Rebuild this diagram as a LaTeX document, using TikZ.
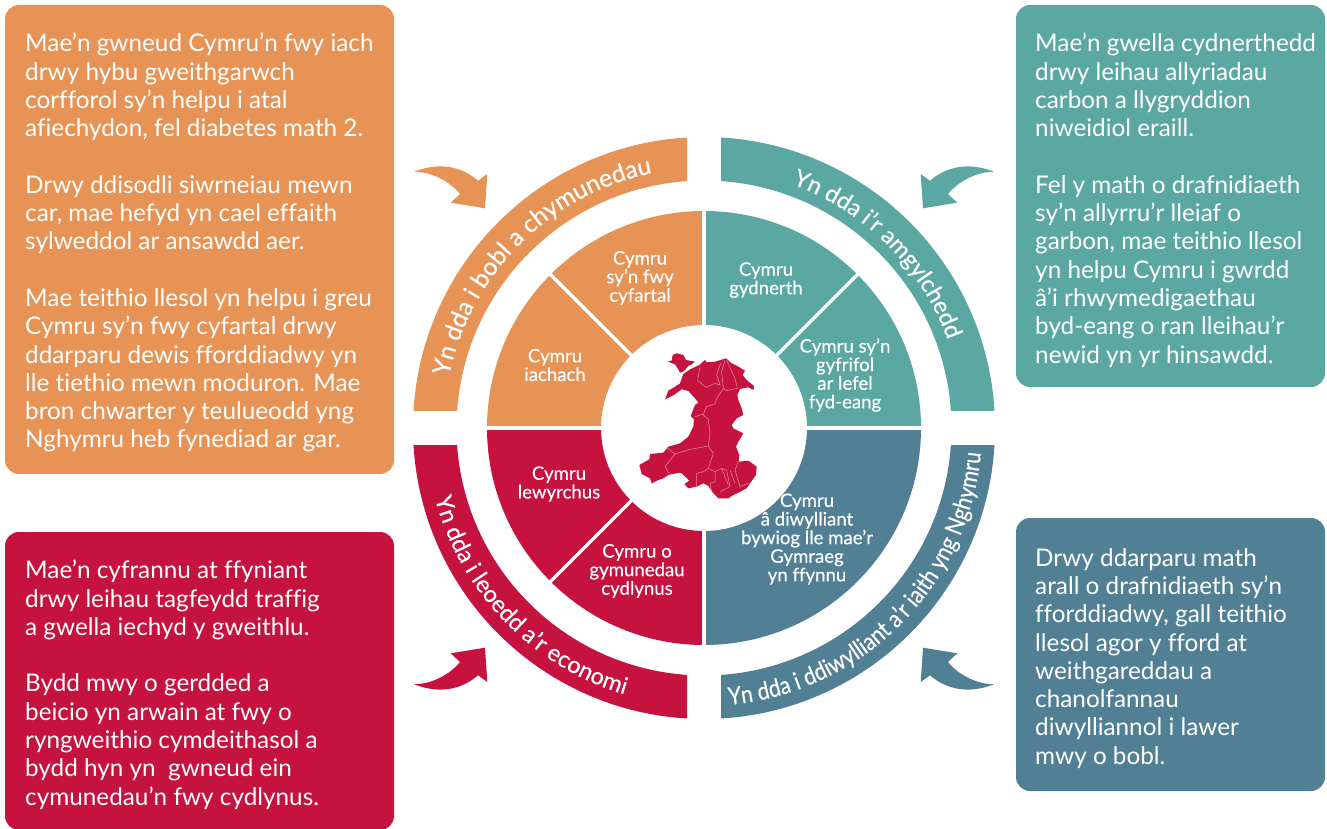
\documentclass[tikz,border=0pt]{standalone}
\usepackage{fontspec}
\setmainfont[Ligatures=NoCommon]{Lato}
\newfontfamily\boldishf[FakeBold=0.25,Ligatures=NoCommon]{Lato}
\newfontfamily\narrowf[FakeStretch=0.87,FakeBold=0.25,Ligatures=NoCommon]{Lato}
\usetikzlibrary{decorations.text}
\definecolor{cOrange}{HTML}{E79355}
\definecolor{cTeal}{HTML}{5BA8A3}
\definecolor{cRed}{HTML}{C6123F}
\definecolor{cBlue}{HTML}{518094}
\definecolor{cBorder}{HTML}{E58BA3}
\newcommand{\bodyfont}{\fontsize{24.3}{28.3}\selectfont}
\newcommand{\labfont}{\boldishf\fontsize{18.6}{18.6}\selectfont}
\newcommand{\arcfont}{\boldishf\fontsize{23.5}{28}\selectfont\color{white}}
\newcommand{\arcwide}{\boldishf\fontsize{24.6}{28}\selectfont\color{white}}
\newcommand{\arcnarrow}{\narrowf\fontsize{24.3}{28}\selectfont\color{white}}
\newcommand{\swoosh}[3]{\begin{scope}[shift={(c)},xscale=#2,yscale=#3]
\fill[#1] (-290,256.3) .. controls (-265,266) and (-243,262) .. (-226,247.3) -- (-216.7,254) -- (-219,219.7) -- (-253.3,225.3) -- (-244,234) .. controls (-253,245) and (-270,256) .. cycle;
\end{scope}}
% outer start, outer end, inner start, inner end angles: cuts stay parallel to the axes
\newcommand{\band}[5]{\fill[#1] ([shift={(c)}]#2:291) arc[start angle=#2,end angle=#3,radius=291]
 -- ([shift={(c)}]#5:247.5) arc[start angle=#5,end angle=#4,radius=247.5] -- cycle;}
\newcommand{\sector}[3]{\fill[#1] ([shift={(c)}]#2:217) arc[start angle=#2,end angle=#3,radius=217]
 -- ([shift={(c)}]#3:103) arc[start angle=#3,end angle=#2,radius=103] -- cycle;}
\tikzset{
  panel/.style={rounded corners=14pt,inner sep=0,minimum width=0},
  bodytext/.style={text=white,align=left,anchor=north west,inner sep=0,font=\bodyfont},
  lab/.style={text=white,align=center,inner sep=0,font=\labfont},
  divider/.style={white,line width=3.2pt},
  arcpath/.style={decorate},
}
\begin{document}
\begin{tikzpicture}[x=1pt,y=1pt]
\useasboundingbox (0,0) rectangle (1327,828);
\coordinate (c) at (704,400);
% panels
\fill[cOrange,panel] (5,354) rectangle (394,823);
\fill[cTeal,panel] (1016,441) rectangle (1325,823);
\fill[cRed,panel] (5,-2) rectangle (394,296);
\fill[cBlue,panel] (1016,37) rectangle (1325,310);
% panel texts
\node[bodytext] (tOrange) at (25,795) {Mae’n gwneud Cymru’n fwy iach\\drwy hybu gweithgarwch\\corfforol sy’n helpu i atal\\afiechydon, fel diabetes math 2.\\[28.3pt]Drwy ddisodli siwrneiau mewn\\car, mae hefyd yn cael effaith\\sylweddol ar ansawdd aer.\\[28.3pt]Mae teithio llesol yn helpu i greu\\Cymru sy’n fwy cyfartal drwy\\ddarparu dewis fforddiadwy yn\\lle tiethio mewn moduron. Mae\\bron chwarter y teulueodd yng\\Nghymru heb fynediad ar gar.};
\node[bodytext] (tTeal) at (1035,795) {Mae’n gwella cydnerthedd\\drwy leihau allyriadau\\carbon a llygryddion\\niweidiol eraill.\\[28.3pt]Fel y math o drafnidiaeth\\sy’n allyrru’r lleiaf o\\garbon, mae teithio llesol\\yn helpu Cymru i gwrdd\\â’i rhwymedigaethau\\byd-eang o ran lleihau’r\\newid yn yr hinsawdd.};
\node[bodytext] (tRed) at (25,268) {Mae’n cyfrannu at ffyniant\\drwy leihau tagfeydd traffig\\a gwella iechyd y gweithlu.\\[28.3pt]Bydd mwy o gerdded a\\beicio yn arwain at fwy o\\ryngweithio cymdeithasol a\\bydd hyn yn\ \ gwneud ein\\cymunedau’n fwy cydlynus.};
\node[bodytext] (tBlue) at (1035,280) {Drwy ddarparu math\\arall o drafnidiaeth sy’n\\fforddiadwy, gall teithio\\llesol agor y fford at\\weithgareddau a\\chanolfannau\\diwylliannol i lawer\\mwy o bobl.};
% swooshes
\swoosh{cOrange}{1}{1}
\swoosh{cTeal}{-1}{1}
\swoosh{cRed}{1}{-1}
\swoosh{cBlue}{-1}{-1}
% outer bands
\band{cOrange}{176.65}{93.35}{176.06}{93.94}
\band{cTeal}{86.65}{3.35}{86.06}{3.94}
\band{cRed}{183.35}{266.65}{183.94}{266.06}
\band{cBlue}{356.65}{273.35}{356.06}{273.94}
% band texts
\path[arcpath,decoration={text along path,text align=center,text={|\arcwide|Yn dda i bobl a chymunedau}}]
  ([shift={(c)}]175:260) arc[start angle=175,end angle=95,radius=260];
\path[arcpath,decoration={text along path,text align=center,text={|\arcfont|Yn dda i’r amgylchedd}}]
  ([shift={(c)}]85:259) arc[start angle=85,end angle=5,radius=259];
\path[arcpath,decoration={text along path,text align=center,text={|\arcfont|Yn dda i leoedd a’r economi}}]
  ([shift={(c)}]185:278) arc[start angle=185,end angle=263,radius=278];
\path[arcpath,decoration={text along path,text align=center,text={|\arcnarrow|Yn dda i ddiwylliant a’r iaith yng Nghymru}}]
  ([shift={(c)}]273:278) arc[start angle=273,end angle=357,radius=278];
% inner sectors
\sector{cOrange}{90}{180}
\sector{cTeal}{0}{90}
\sector{cRed}{180}{270}
\sector{cBlue}{270}{360}
\draw[divider] ([shift={(c)}]90:90) -- ([shift={(c)}]90:220);
\draw[divider] ([shift={(c)}]270:90) -- ([shift={(c)}]270:220);
\draw[divider] ([shift={(c)}]0:90) -- ([shift={(c)}]0:220);
\draw[divider] ([shift={(c)}]180:90) -- ([shift={(c)}]180:220);
\draw[divider] ([shift={(c)}]135:95) -- ([shift={(c)}]135:222);
\draw[divider] ([shift={(c)}]45:95) -- ([shift={(c)}]45:222);
\draw[divider] ([shift={(c)}]225:95) -- ([shift={(c)}]225:222);
% inner labels
\node[lab] (l1) at (640,550) {Cymru\\sy’n fwy\\cyfartal};
\node[lab] (l2) at (555,463) {Cymru\\iachach};
\node[lab] (l3) at (766,548) {Cymru\\gydnerth};
\node[lab] (l4) at (845,453) {Cymru sy’n\\gyfrifol\\ar lefel\\fyd-eang};
\node[lab] (l5) at (559,344) {Cymru\\lewyrchus};
\node[lab] (l6) at (637,257) {Cymru o\\gymunedau\\cydlynus};
\node[lab] (l7) at (807,289) {Cymru\\â diwylliant\\bywiog lle mae’r\\Gymraeg\\yn ffynnu};
% map of Wales
\begin{scope}[shift={(600,498)},x=0.33333pt,y=-0.33333pt]
\fill[cRed] (203,95)--(215,92)--(218,75)--(230,70)--(250,75)--(258,90)--(285,95)--(275,103)--(265,108)--(250,125)--(240,128)--(235,118)--(225,103)--cycle;
\fill[cRed] (250,132)--(270,118)--(298,105)--(315,90)--(320,97)--(345,95)--(378,85)--(395,100)--(415,110)--(435,122)--(428,135)--(440,150)--(462,168)--(460,180)--(445,172)--(420,177)--(412,195)--(415,210)--(425,235)--(430,255)--(410,265)--(395,285)--(400,295)--(430,310)--(415,335)--(408,350)--(418,375)--(416,395)--(445,392)--(470,410)--(468,435)--(450,460)--(440,475)--(415,488)--(400,495)--(385,505)--(355,505)--(340,490)--(325,468)--(310,460)--(290,470)--(265,475)--(253,462)--(268,452)--(245,430)--(238,428)--(205,435)--(190,445)--(175,450)--(155,460)--(150,445)--(125,432)--(118,405)--(148,388)--(150,372)--(190,368)--(205,350)--(240,340)--(265,320)--(280,290)--(282,268)--(272,258)--(285,225)--(295,218)--(285,205)--(265,183)--(245,178)--(222,195)--(195,208)--(205,182)--(222,172)--(240,160)--cycle;
\draw[cBorder,line width=0.5pt] (300,110)--(293,152)--(318,172)--(345,160)--(360,165)--(350,135)--(362,100)
 (375,90)--(365,125)--(370,175)--(350,205)--(345,222)--(318,230)--(310,255)--(325,268)--(330,310)--(325,348)--(340,370)--(325,415)
 (380,90)--(405,145)--(412,175)--(380,182)--(370,175)
 (285,260)--(310,252)
 (200,352)--(225,372)--(270,358)--(325,348)
 (225,372)--(195,410)--(210,435)
 (325,415)--(345,425)--(345,455)--(330,460)--(335,485)
 (345,425)--(365,415)--(380,420)--(390,470)--(360,485)
 (365,415)--(385,465)
 (390,420)--(405,460)
 (415,395)--(405,420)--(420,470)--(445,460)
 (290,470)--(290,430)--(310,425)--(325,415);
\end{scope}
\end{tikzpicture}
\end{document}
